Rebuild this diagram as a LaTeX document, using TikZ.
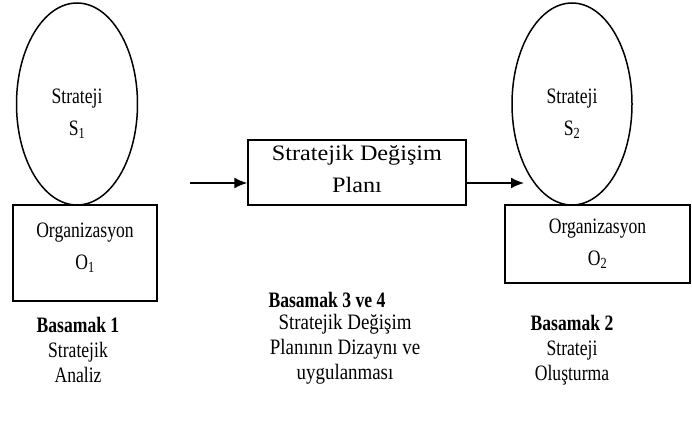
\documentclass[tikz,border=0pt]{standalone}
\usepackage{fontspec}
\setmainfont{Liberation Serif}
\newfontfamily\narrowfont[FakeStretch=0.8]{Liberation Serif}
\newfontfamily\midfont[FakeStretch=0.86]{Liberation Serif}
\newfontfamily\planfont[FakeStretch=1.1]{Liberation Serif}
\usetikzlibrary{shapes.geometric,arrows.meta}
\begin{document}
\begin{tikzpicture}[x=1pt,y=-1pt, every node/.style={align=center,font=\narrowfont\fontsize{22}{32}\selectfont}, oval/.style={draw,ellipse,line width=1.5pt,inner sep=0pt}, box/.style={draw,rectangle,line width=1.5pt,inner sep=0pt}, steptext/.style={font=\narrowfont\fontsize{22}{25}\selectfont}, flow/.style={draw,-{Latex[length=13pt,width=11pt]},line width=1.6pt}]
\useasboundingbox (0,0) rectangle (692,433);
% left: analysis
\node(stratA)[oval,minimum width=121,minimum height=202] at (77,104) {};
\node(stratAtext) at (77,114) {Strateji\\S\textsubscript{1}};
\node(orgA)[box,minimum width=144,minimum height=96] at (85,253) {};
\node(orgAtext) at (85,248) {Organizasyon\\O\textsubscript{1}};
% middle: plan
\node(plan)[box,minimum width=218,minimum height=65] at (357,172.5) {};
\node(plantext)[font=\planfont\fontsize{22}{32}\selectfont] at (357,169) {Stratejik Değişim\\Planı};
% right: formulation
\node(stratB)[oval,minimum width=120,minimum height=202] at (572,104) {};
\node(stratBtext) at (572,114) {Strateji\\S\textsubscript{2}};
\node(orgB)[box,minimum width=185,minimum height=78] at (597.5,244) {Organizasyon\\O\textsubscript{2}};
% arrows
\coordinate(in1) at (190,183);
\coordinate(out2) at (524,183);
\draw[flow] (in1) -- (plan.west |- in1);
\draw[flow] (plan.east |- out2) -- (out2);
% steps
\node(step1)[steptext] at (78,350) {\textbf{Basamak 1}\\Stratejik\\Analiz};
\node(step34head)[steptext,anchor=west] at (265,300) {\textbf{Basamak 3 ve 4}};
\node(step34)[steptext,font=\midfont\fontsize{22}{25}\selectfont] at (345,349) {Stratejik Değişim\\Planının Dizaynı ve\\uygulanması};
\node(step2)[steptext] at (572,350) {\textbf{Basamak 2}\\Strateji\\Oluşturma};
\end{tikzpicture}
\end{document}
